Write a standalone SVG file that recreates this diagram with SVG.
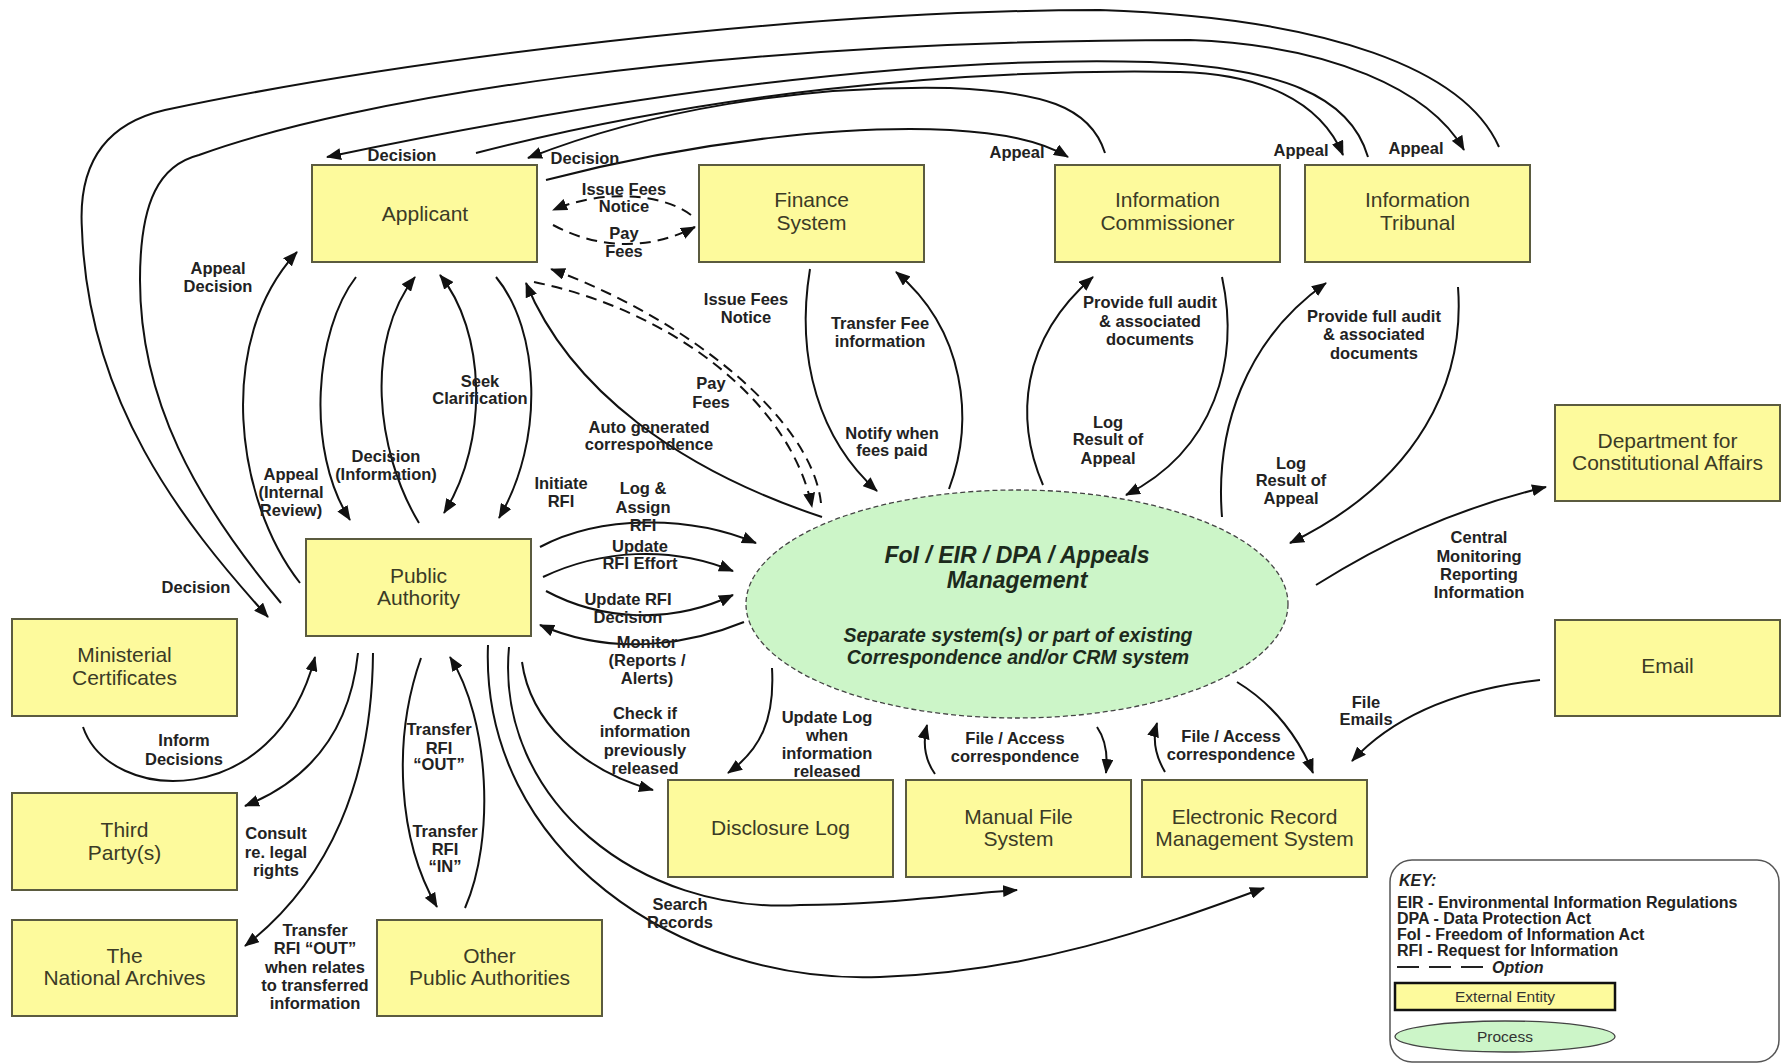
<svg xmlns="http://www.w3.org/2000/svg" width="1782" height="1064" viewBox="0 0 1782 1064">
<defs>
<marker id="ah" markerWidth="15" markerHeight="12" refX="14" refY="6" orient="auto" markerUnits="userSpaceOnUse"><path d="M0,0 L15,6 L0,12 z" fill="#111"/></marker>
<marker id="as" markerWidth="15" markerHeight="12" refX="14" refY="6" orient="auto-start-reverse" markerUnits="userSpaceOnUse"><path d="M0,0 L15,6 L0,12 z" fill="#111"/></marker>
</defs>
<style>
.box{fill:#FDFA9C;stroke:#5b5b3f;stroke-width:2}
.bt{font-family:"Liberation Sans",Arial,sans-serif;font-size:21px;fill:#3b3b26;text-anchor:middle}
.lb{font-family:"Liberation Sans",Arial,sans-serif;font-size:16.5px;font-weight:bold;fill:#222;text-anchor:middle}
.c{fill:none;stroke:#111;stroke-width:2}
.a{marker-end:url(#ah)}
.d{stroke-dasharray:11,7}
.proc{fill:#CCF5C8;stroke:#444;stroke-width:1.3;stroke-dasharray:5,3}
.pt{font-family:"Liberation Sans",Arial,sans-serif;font-weight:bold;font-style:italic;fill:#1c2a1c;text-anchor:middle}
.kt{font-family:"Liberation Sans",Arial,sans-serif;font-size:16px;font-weight:bold;fill:#222}
</style>
<rect x="0" y="0" width="1782" height="1064" fill="#fff"/>

<g id="connectors">
<!-- top arcs -->
<path class="c a" d="M1499,147 C1465,70 1330,18 1100,10 C800,10 400,60 165,110 C100,125 78,170 82,230 C88,400 180,520 268,617"/>
<path class="c a" d="M281,603 C195,500 140,400 140,280 C140,200 160,165 199,155 C350,100 700,40 1190,40 C1330,45 1430,90 1464,150"/>
<path class="c a" d="M1368,157 C1350,95 1280,68 1150,62 C900,55 600,100 327,157"/>
<path class="c a" d="M476,153 C700,95 950,68 1180,72 C1260,74 1320,100 1343,155"/>
<path class="c a" d="M1105,153 C1090,105 1040,92 950,88 C800,85 650,110 528,158"/>
<path class="c a" d="M546,180 C700,140 850,125 950,130 C1000,133 1040,140 1068,157"/>
<!-- finance/applicant dashed -->
<path class="c a d" d="M691,215 C660,192 600,190 553,210"/>
<path class="c a d" d="M553,225 C600,250 650,250 695,227"/>
<path class="c a d" d="M821,503 C812,420 690,320 551,269"/>
<path class="c a d" d="M534,282 C670,310 790,400 812,507"/>
<!-- auto generated -->
<path class="c a" d="M822,517 C680,470 570,390 526,283"/>
<!-- applicant / PA -->
<path class="c a" d="M356,277 C315,330 305,450 350,520"/>
<path class="c a" d="M419,523 C375,450 365,340 415,277"/>
<path class="c a" d="M440,275 C485,330 490,440 444,513" marker-start="url(#as)"/>
<path class="c a" d="M496,277 C540,330 545,440 499,518"/>
<path class="c a" d="M300,583 C235,500 215,340 297,252"/>
<!-- finance / process -->
<path class="c a" d="M810,269 C795,360 820,440 877,491"/>
<path class="c a" d="M949,489 C975,420 965,330 896,272"/>
<!-- IC / process -->
<path class="c a" d="M1043,485 C1015,420 1020,340 1093,277"/>
<path class="c a" d="M1222,277 C1240,360 1215,450 1126,495"/>
<!-- IT / process -->
<path class="c a" d="M1222,517 C1215,430 1245,340 1326,283"/>
<path class="c a" d="M1458,287 C1465,380 1420,480 1290,543"/>
<!-- DCA, Email -->
<path class="c a" d="M1316,585 C1380,545 1450,510 1546,487"/>
<path class="c a" d="M1540,680 C1450,690 1390,720 1352,761"/>
<!-- ERMS, MFS -->
<path class="c a" d="M1237,682 C1275,705 1300,740 1313,773"/>
<path class="c a" d="M1165,772 C1155,755 1152,740 1157,723"/>
<path class="c a" d="M935,774 C925,760 922,745 927,725"/>
<path class="c a" d="M1097,727 C1106,740 1108,755 1106,773"/>
<!-- disclosure log -->
<path class="c a" d="M772,668 C775,720 760,750 728,773"/>
<path class="c a" d="M522,662 C530,720 580,770 653,790"/>
<!-- search records -->
<path class="c a" d="M509,647 C495,800 640,915 800,905 C880,905 950,895 1017,890"/>
<path class="c a" d="M488,645 C480,850 680,985 880,977 C1030,972 1150,930 1264,888"/>
<!-- PA / process -->
<path class="c a" d="M744,622 C700,640 620,660 540,625"/>
<path class="c a" d="M546,591 C600,620 670,625 733,595"/>
<path class="c a" d="M543,577 C600,550 670,545 733,571"/>
<path class="c a" d="M540,547 C600,515 690,515 756,543"/>
<!-- PA bottom -->
<path class="c a" d="M421,658 C392,740 398,840 437,907"/>
<path class="c a" d="M465,908 C495,840 490,720 450,657"/>
<path class="c a" d="M83,727 C110,805 275,812 315,657"/>
<path class="c a" d="M358,653 C350,730 310,780 245,806"/>
<path class="c a" d="M373,653 C372,780 330,880 245,946"/>
</g>

<g id="labels">
<text class="lb" x="402" y="161">Decision</text>
<text class="lb" x="585" y="164">Decision</text>
<text class="lb" x="1017" y="158">Appeal</text>
<text class="lb" x="1301" y="156">Appeal</text>
<text class="lb" x="1416" y="154">Appeal</text>
<text class="lb"><tspan x="624" y="195">Issue Fees</tspan><tspan x="624" y="212">Notice</tspan></text>
<text class="lb"><tspan x="624" y="239">Pay</tspan><tspan x="624" y="257">Fees</tspan></text>
<text class="lb"><tspan x="218" y="274">Appeal</tspan><tspan x="218" y="292">Decision</tspan></text>
<text class="lb"><tspan x="746" y="305">Issue Fees</tspan><tspan x="746" y="323">Notice</tspan></text>
<text class="lb"><tspan x="880" y="329">Transfer Fee</tspan><tspan x="880" y="347">information</tspan></text>
<text class="lb"><tspan x="1150" y="308">Provide full audit</tspan><tspan x="1150" y="327">&amp; associated</tspan><tspan x="1150" y="345">documents</tspan></text>
<text class="lb"><tspan x="1374" y="322">Provide full audit</tspan><tspan x="1374" y="340">&amp; associated</tspan><tspan x="1374" y="359">documents</tspan></text>
<text class="lb"><tspan x="480" y="387">Seek</tspan><tspan x="480" y="404">Clarification</tspan></text>
<text class="lb"><tspan x="711" y="389">Pay</tspan><tspan x="711" y="408">Fees</tspan></text>
<text class="lb"><tspan x="649" y="433">Auto generated</tspan><tspan x="649" y="450">correspondence</tspan></text>
<text class="lb"><tspan x="892" y="439">Notify when</tspan><tspan x="892" y="456">fees paid</tspan></text>
<text class="lb"><tspan x="1108" y="428">Log</tspan><tspan x="1108" y="445">Result of</tspan><tspan x="1108" y="464">Appeal</tspan></text>
<text class="lb"><tspan x="1291" y="469">Log</tspan><tspan x="1291" y="486">Result of</tspan><tspan x="1291" y="504">Appeal</tspan></text>
<text class="lb"><tspan x="386" y="462">Decision</tspan><tspan x="386" y="480">(Information)</tspan></text>
<text class="lb"><tspan x="291" y="480">Appeal</tspan><tspan x="291" y="498">(Internal</tspan><tspan x="291" y="516">Review)</tspan></text>
<text class="lb"><tspan x="561" y="489">Initiate</tspan><tspan x="561" y="507">RFI</tspan></text>
<text class="lb"><tspan x="643" y="494">Log &amp;</tspan><tspan x="643" y="513">Assign</tspan><tspan x="643" y="531">RFI</tspan></text>
<text class="lb"><tspan x="640" y="552">Update</tspan><tspan x="640" y="569">RFI Effort</tspan></text>
<text class="lb"><tspan x="628" y="605">Update RFI</tspan><tspan x="628" y="623">Decision</tspan></text>
<text class="lb"><tspan x="647" y="648">Monitor</tspan><tspan x="647" y="666">(Reports /</tspan><tspan x="647" y="684">Alerts)</tspan></text>
<text class="lb"><tspan x="1479" y="543">Central</tspan><tspan x="1479" y="562">Monitoring</tspan><tspan x="1479" y="580">Reporting</tspan><tspan x="1479" y="598">Information</tspan></text>
<text class="lb" x="196" y="593">Decision</text>
<text class="lb"><tspan x="1366" y="708">File</tspan><tspan x="1366" y="725">Emails</tspan></text>
<text class="lb"><tspan x="645" y="719">Check if</tspan><tspan x="645" y="737">information</tspan><tspan x="645" y="756">previously</tspan><tspan x="645" y="774">released</tspan></text>
<text class="lb"><tspan x="827" y="723">Update Log</tspan><tspan x="827" y="741">when</tspan><tspan x="827" y="759">information</tspan><tspan x="827" y="777">released</tspan></text>
<text class="lb"><tspan x="1015" y="744">File / Access</tspan><tspan x="1015" y="762">correspondence</tspan></text>
<text class="lb"><tspan x="1231" y="742">File / Access</tspan><tspan x="1231" y="760">correspondence</tspan></text>
<text class="lb"><tspan x="184" y="746">Inform</tspan><tspan x="184" y="765">Decisions</tspan></text>
<text class="lb"><tspan x="439" y="735">Transfer</tspan><tspan x="439" y="754">RFI</tspan><tspan x="439" y="770">“OUT”</tspan></text>
<text class="lb"><tspan x="276" y="839">Consult</tspan><tspan x="276" y="858">re. legal</tspan><tspan x="276" y="876">rights</tspan></text>
<text class="lb"><tspan x="445" y="837">Transfer</tspan><tspan x="445" y="855">RFI</tspan><tspan x="445" y="872">“IN”</tspan></text>
<text class="lb"><tspan x="680" y="910">Search</tspan><tspan x="680" y="928">Records</tspan></text>
<text class="lb"><tspan x="315" y="936">Transfer</tspan><tspan x="315" y="954">RFI “OUT”</tspan><tspan x="315" y="973">when relates</tspan><tspan x="315" y="991">to transferred</tspan><tspan x="315" y="1009">information</tspan></text>
</g>

<g id="applicant"><rect class="box" x="312" y="165" width="225" height="97"/><text class="bt" x="425" y="221">Applicant</text></g>
<g id="finance-system"><rect class="box" x="699" y="165" width="225" height="97"/><text class="bt"><tspan x="811.5" y="207">Finance</tspan><tspan x="811.5" y="230">System</tspan></text></g>
<g id="information-commissioner"><rect class="box" x="1055" y="165" width="225" height="97"/><text class="bt"><tspan x="1167.5" y="207">Information</tspan><tspan x="1167.5" y="230">Commissioner</tspan></text></g>
<g id="information-tribunal"><rect class="box" x="1305" y="165" width="225" height="97"/><text class="bt"><tspan x="1417.5" y="207">Information</tspan><tspan x="1417.5" y="230">Tribunal</tspan></text></g>
<g id="dca"><rect class="box" x="1555" y="405" width="225" height="96"/><text class="bt"><tspan x="1667.5" y="448">Department for</tspan><tspan x="1667.5" y="470">Constitutional Affairs</tspan></text></g>
<g id="email"><rect class="box" x="1555" y="620" width="225" height="96"/><text class="bt" x="1667.5" y="673">Email</text></g>
<g id="public-authority"><rect class="box" x="306" y="539" width="225" height="97"/><text class="bt"><tspan x="418.5" y="583">Public</tspan><tspan x="418.5" y="605">Authority</tspan></text></g>
<g id="ministerial-certificates"><rect class="box" x="12" y="619" width="225" height="97"/><text class="bt"><tspan x="124.5" y="662">Ministerial</tspan><tspan x="124.5" y="685">Certificates</tspan></text></g>
<g id="third-party"><rect class="box" x="12" y="793" width="225" height="97"/><text class="bt"><tspan x="124.5" y="837">Third</tspan><tspan x="124.5" y="860">Party(s)</tspan></text></g>
<g id="national-archives"><rect class="box" x="12" y="920" width="225" height="96"/><text class="bt"><tspan x="124.5" y="963">The</tspan><tspan x="124.5" y="985">National Archives</tspan></text></g>
<g id="other-public-authorities"><rect class="box" x="377" y="920" width="225" height="96"/><text class="bt"><tspan x="489.5" y="963">Other</tspan><tspan x="489.5" y="985">Public Authorities</tspan></text></g>
<g id="disclosure-log"><rect class="box" x="668" y="780" width="225" height="97"/><text class="bt" x="780.5" y="835">Disclosure Log</text></g>
<g id="manual-file-system"><rect class="box" x="906" y="780" width="225" height="97"/><text class="bt"><tspan x="1018.5" y="824">Manual File</tspan><tspan x="1018.5" y="846">System</tspan></text></g>
<g id="erms"><rect class="box" x="1142" y="780" width="225" height="97"/><text class="bt"><tspan x="1254.5" y="824">Electronic Record</tspan><tspan x="1254.5" y="846">Management System</tspan></text></g>

<g id="process">
<ellipse class="proc" cx="1017" cy="604" rx="271" ry="114"/>
<text class="pt" font-size="23"><tspan x="1017" y="563">FoI / EIR / DPA / Appeals</tspan><tspan x="1017" y="588">Management</tspan></text>
<text class="pt" font-size="19.5"><tspan x="1018" y="642">Separate system(s) or part of existing</tspan><tspan x="1018" y="664">Correspondence and/or CRM system</tspan></text>
</g>

<g id="key">
<rect x="1390" y="860" width="389" height="202" rx="22" fill="#fff" stroke="#555" stroke-width="1.5"/>
<text class="kt" x="1399" y="886" font-style="italic">KEY:</text>
<text class="kt" x="1397" y="908">EIR - Environmental Information Regulations</text>
<text class="kt" x="1397" y="924">DPA - Data Protection Act</text>
<text class="kt" x="1397" y="940">FoI - Freedom of Information Act</text>
<text class="kt" x="1397" y="956">RFI - Request for Information</text>
<line x1="1397" y1="967" x2="1483" y2="967" stroke="#222" stroke-width="2" stroke-dasharray="22,10"/>
<text class="kt" x="1492" y="973" font-style="italic">Option</text>
<rect x="1395" y="983" width="220" height="27" fill="#FDFA9C" stroke="#111" stroke-width="2.5"/>
<text x="1505" y="1002" font-family="Liberation Sans, Arial, sans-serif" font-size="15.5" fill="#333" text-anchor="middle">External Entity</text>
<ellipse cx="1505" cy="1036.5" rx="110" ry="15.5" fill="#CCF5C8" stroke="#444" stroke-width="1.3"/>
<text x="1505" y="1042" font-family="Liberation Sans, Arial, sans-serif" font-size="15.5" fill="#333" text-anchor="middle">Process</text>
</g>
</svg>
